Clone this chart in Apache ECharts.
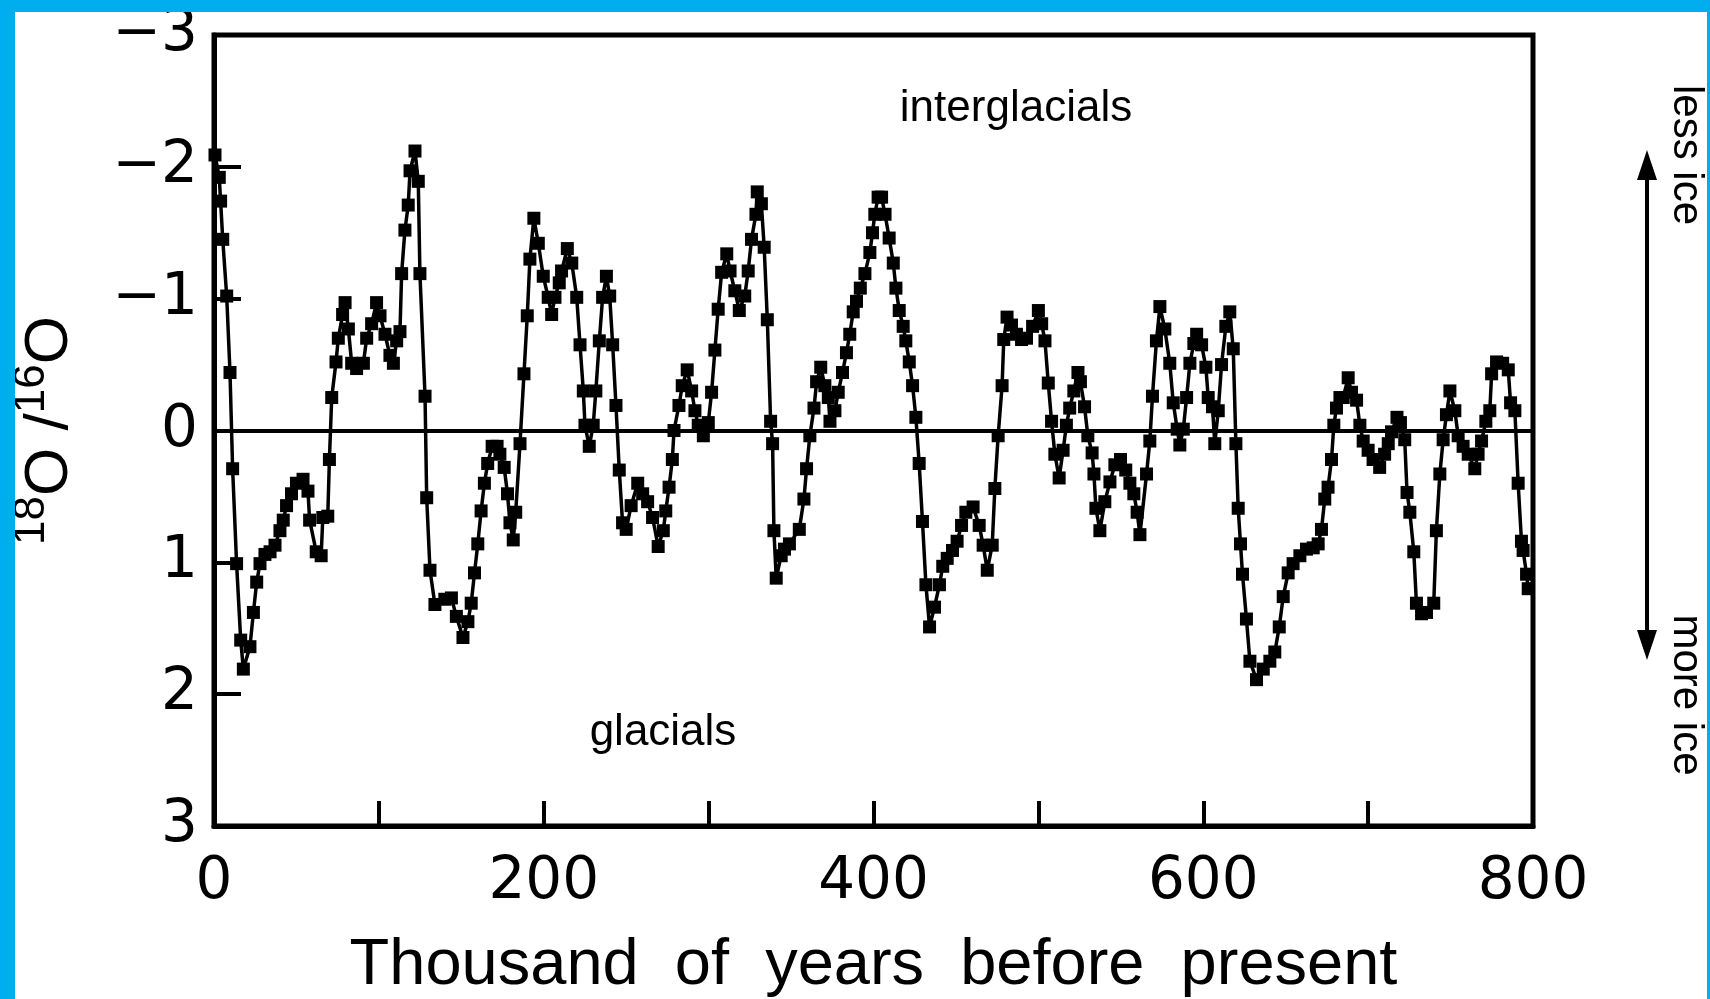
<!DOCTYPE html>
<html>
<head>
    <meta charset="utf-8">
    <title>18O/16O - 800 thousand years</title>
    <script src="https://cdn.jsdelivr.net/npm/echarts@6/dist/echarts.min.js"></script>
</head>

<style>
    body
    {
        margin:0;
        background-color:#00aeef;
    }

    #main
    {
        position:absolute;
        left:15px;
        top:12px;
        width:1692px;
        height:987px;
        background-color:#ffffff;
    }
</style>

<body>

    <div id="main"></div>

    <script type="text/javascript">

        // thousand of years before present
        var age = [
            0.6, 3.2, 4, 5.3, 7.7, 9.7, 11.3, 13.7, 16.2, 17.8, 21.8, 23.9, 25.9, 27.9, 30.9, 34, 37, 40, 42, 44,
            47, 50, 54, 57, 58, 62, 65, 66, 69, 70, 71.4, 74, 75.4, 78, 79.5, 81.5, 83.5, 86.5, 90.6, 92.6,
            95.6, 98.6, 100.7, 103.7, 106.7, 108.8, 110.8, 112.8, 113.8, 115.8, 117.8, 118.9, 121.9, 123.9, 124.9, 128, 129, 131, 134,
            140, 144, 147, 151, 154, 156, 158, 160, 162, 164, 166, 168.7, 171.7, 173.4, 176, 178, 179.5, 181.5, 183, 185.6,
            188, 190, 191.6, 194, 196.7, 199.7, 202.7, 204.8, 206.8, 209.4, 210.8, 214.3, 217, 220, 222, 224, 225, 227.6, 230, 231.6,
            233.7, 235.7, 238, 240, 241.8, 243.8, 245.8, 247.8, 250, 253, 257, 260, 263,
            266, 269.4, 272.5, 274, 276, 278, 279, 282, 284, 287, 289.7, 291.7, 293.7, 296.8, 299.8, 301.8, 303.8, 305.8, 307.9, 311,
            313, 315.9, 318.6, 321.9, 324, 326, 328.7, 329.5, 332, 333.7, 335.6, 337.6, 338.8, 339.6, 341, 344, 346, 349, 355, 357.8,
            359.4, 361.4, 363.9, 365.5, 368, 370.5, 372.6, 373.6, 376.6, 378.6, 381.2, 383.6, 385.6, 387.7, 389.7, 392, 394.8, 397.8, 399.4, 400.8, 402.8,
            404.9, 407, 409.5, 412, 413.6, 415.6, 418, 419.6, 421.7, 423.7, 425.7, 427.7, 429.7, 431.8, 434, 437, 440, 442, 444.7, 447.9,
            450.7, 453.4, 456, 460.4, 464.1, 466.5, 469, 472, 473.6, 475.6, 478, 479, 481, 483.7, 486.7, 489.8, 492.8, 496.5, 500, 502,
            504, 506, 508, 510, 512.6, 515, 517, 519, 521.5, 524, 525.5, 528, 530,
            532.6, 533.7, 534.9, 537.3, 540.3, 543.4, 546.4, 549.8, 553, 555.5, 557.9, 559.9, 561.6, 565.6, 567.6, 569.2, 571.6, 573.7, 576.7, 579.7,
            581.8, 584.2, 585.8, 587.9, 589.9, 591.9, 594.3, 596, 599, 601.6, 603, 605.6, 607, 609.1, 611.1, 613.7, 616.1, 618.2, 619.8, 621.2,
            622.6, 623.8, 626.2, 628.3, 632.3, 636.4, 640.4, 643.4, 646.1, 648.5, 651.5, 654.5, 658.6, 662.6,
            666.7, 669.7, 671.7, 673.7, 675.7, 677.8, 679.2, 680.8, 682.9, 684.9, 687.9, 689.9, 693, 695, 697, 700, 703, 707, 710, 712.2,
            714.2, 717.5, 719.6, 722.2, 723.6, 725.3, 727.7, 729.3, 732.4, 735.4, 739.8, 741.4, 743.5, 745.5, 747.5, 749.6, 752.6, 754.6, 757.6, 760.7,
            764.7, 766.7, 768.8, 771.4, 773.8, 774.9, 777.9, 781.6, 785, 786.4, 789, 791, 793, 794, 796.1, 797.1
        ];

        // 18O/16O anomaly
        var d18o = [
            -2.09, -1.92, -1.74, -1.45, -1.02, -0.44, 0.29, 1.01, 1.59, 1.81, 1.64, 1.38, 1.15, 1.01, 0.94, 0.92, 0.87, 0.76, 0.68, 0.57,
            0.48, 0.40, 0.37, 0.46, 0.68, 0.92, 0.95, 0.66, 0.65, 0.22, -0.25, -0.52, -0.70, -0.88, -0.97, -0.77, -0.51, -0.47, -0.51, -0.70,
            -0.81, -0.97, -0.87, -0.73, -0.57, -0.51, -0.68, -0.75, -1.19, -1.52, -1.71, -1.97, -2.12, -1.89, -1.19, -0.26, 0.51, 1.06, 1.32,
            1.28, 1.27, 1.41, 1.57, 1.45, 1.31, 1.08, 0.86, 0.61, 0.40, 0.25, 0.12, 0.12, 0.18, 0.28, 0.48, 0.70, 0.83, 0.62, 0.10,
            -0.43, -0.87, -1.30, -1.61, -1.42, -1.17, -1.01, -0.88, -1.01, -1.12, -1.21, -1.38, -1.27, -1.01, -0.65, -0.30, -0.04, 0.12, -0.04, -0.30,
            -0.68, -1.01, -1.17, -1.02, -0.65, -0.19, 0.30, 0.70, 0.75, 0.57, 0.40, 0.48, 0.54,
            0.66, 0.88, 0.76, 0.61, 0.43, 0.22, 0.0, -0.19, -0.34, -0.46, -0.30, -0.15, -0.04, 0.04, -0.06, -0.29, -0.61, -0.92, -1.20, -1.34,
            -1.21, -1.06, -0.91, -1.02, -1.21, -1.45, -1.64, -1.81, -1.72, -1.39, -0.84, -0.07, 0.10, 0.76, 1.12, 0.95, 0.90, 0.86, 0.75, 0.52,
            0.29, 0.04, -0.17, -0.37, -0.48, -0.34, -0.25, -0.07, -0.15, -0.29, -0.44, -0.59, -0.73, -0.90, -0.98, -1.08, -1.19, -1.35, -1.50, -1.64, -1.77,
            -1.77, -1.64, -1.46, -1.27, -1.08, -0.91, -0.79, -0.68, -0.52, -0.34, -0.10, 0.25, 0.69, 1.17, 1.49, 1.34, 1.17, 1.03, 0.97, 0.91,
            0.84, 0.72, 0.62, 0.58, 0.72, 0.87, 1.06, 0.87, 0.44, 0.04, -0.34, -0.69, -0.86, -0.80, -0.73, -0.69, -0.70, -0.79, -0.91, -0.81,
            -0.68, -0.36, -0.07, 0.18, 0.36, 0.15, -0.04, -0.17, -0.30, -0.44, -0.37, -0.18, 0.04,
            0.17, 0.33, 0.59, 0.76, 0.54, 0.39, 0.26, 0.22, 0.30, 0.40, 0.48, 0.62, 0.79, 0.33, 0.08, -0.26, -0.68, -0.94, -0.77, -0.51,
            -0.21, -0.01, 0.11, -0.01, -0.25, -0.51, -0.66, -0.73, -0.65, -0.48, -0.25, -0.18, 0.10, -0.15, -0.50, -0.79, -0.90, -0.62, 0.10, 0.59,
            0.86, 1.09, 1.43, 1.75, 1.89, 1.81, 1.75, 1.68, 1.49, 1.26, 1.08, 1.01, 0.95, 0.90,
            0.89, 0.86, 0.75, 0.52, 0.43, 0.22, -0.04, -0.17, -0.25, -0.25, -0.40, -0.29, -0.23, -0.04, 0.08, 0.15, 0.22, 0.28, 0.18, 0.10,
            0.01, -0.10, -0.06, 0.07, 0.47, 0.62, 0.92, 1.31, 1.39, 1.38, 1.31, 0.76, 0.33, 0.07, -0.12, -0.30, -0.15, 0.04, 0.12, 0.18,
            0.29, 0.18, 0.08, -0.07, -0.15, -0.43, -0.52, -0.51, -0.46, -0.21, -0.15, 0.40, 0.84, 0.91, 1.09, 1.20
        ];

        var xLabelStep = 200;
        var font = 'Liberation Sans';
        var tickFont = 'DejaVu Sans';

        var points = [];
        for (var i = 0; i < age.length; i++) {
            points.push([age[i], d18o[i]]);
        }

        var myChart = echarts.init(document.getElementById('main'));

        var option = {
            animation: false,
            grid: {
                left: 199,
                top: 23,
                width: 1319,
                height: 791,
                containLabel: false,
                outerBoundsMode: 'none',
                show: true,
                borderColor: '#000',
                borderWidth: 5
            },
            xAxis: {
                type: 'value',
                min: 0,
                max: 800,
                interval: 100,
                name: 'Thousand  of  years  before  present',
                nameLocation: 'middle',
                nameGap: 108,
                nameTextStyle: { color: '#000', fontFamily: font, fontSize: 65 },
                axisLine: { onZero: false, lineStyle: { color: '#000', width: 5 } },
                axisTick: { inside: true, length: 25, lineStyle: { color: '#000', width: 4 } },
                axisLabel: {
                    color: '#000', fontFamily: tickFont, fontSize: 58, margin: 28,
                    formatter: function (v) { return v % xLabelStep === 0 ? String(v) : ''; }
                },
                splitLine: { show: false }
            },
            yAxis: {
                type: 'value',
                inverse: true,
                min: -3,
                max: 3,
                interval: 1,
                name: '{sup|18}{b|O /}{sup|16}{b|O}',
                nameLocation: 'middle',
                nameRotate: 90,
                nameGap: 124,
                nameTextStyle: {
                    color: '#000', fontFamily: font, fontSize: 62,
                    rich: {
                        b: { fontFamily: font, fontSize: 62, lineHeight: 80, color: '#000' },
                        sup: { fontFamily: font, fontSize: 44, lineHeight: 44, verticalAlign: 'top', color: '#000' }
                    }
                },
                axisLine: { lineStyle: { color: '#000', width: 5 } },
                axisTick: { inside: true, length: 27, lineStyle: { color: '#000', width: 4 } },
                axisLabel: {
                    color: '#000', fontFamily: tickFont, fontSize: 58, margin: 16,
                    formatter: function (v) { return v < 0 ? '\u2212' + (-v) : String(v); }
                },
                splitLine: { show: false }
            },
            series: [
                {
                    type: 'line',
                    data: points,
                    symbol: 'rect',
                    symbolSize: 13,
                    showAllSymbol: true,
                    itemStyle: { color: '#000' },
                    lineStyle: { color: '#000', width: 3.5 },
                    markLine: {
                        silent: true,
                        symbol: 'none',
                        label: { show: false },
                        lineStyle: { color: '#000', width: 4, type: 'solid' },
                        data: [{ yAxis: 0 }]
                    }
                }
            ],
            graphic: [
                {
                    type: 'text', x: 1001, y: 97,
                    style: { text: 'interglacials', fontFamily: font, fontSize: 44, fill: '#000', align: 'center', verticalAlign: 'middle' }
                },
                {
                    type: 'text', x: 648, y: 721,
                    style: { text: 'glacials', fontFamily: font, fontSize: 44, fill: '#000', align: 'center', verticalAlign: 'middle' }
                },
                {
                    type: 'text', x: 1671, y: 143, rotation: -Math.PI / 2,
                    style: { text: 'less ice', fontFamily: font, fontSize: 42, fill: '#000', align: 'center', verticalAlign: 'middle' }
                },
                {
                    type: 'text', x: 1671, y: 683, rotation: -Math.PI / 2,
                    style: { text: 'more ice', fontFamily: font, fontSize: 42, fill: '#000', align: 'center', verticalAlign: 'middle' }
                },
                {
                    type: 'line',
                    shape: { x1: 1632, y1: 160, x2: 1632, y2: 626 },
                    style: { stroke: '#000', lineWidth: 4 }
                },
                {
                    type: 'polygon',
                    shape: { points: [[1632, 138], [1622, 168], [1642, 168]] },
                    style: { fill: '#000' }
                },
                {
                    type: 'polygon',
                    shape: { points: [[1632, 648], [1622, 618], [1642, 618]] },
                    style: { fill: '#000' }
                }
            ]
        };

        myChart.setOption(option);
    </script>

</body>
</html>
